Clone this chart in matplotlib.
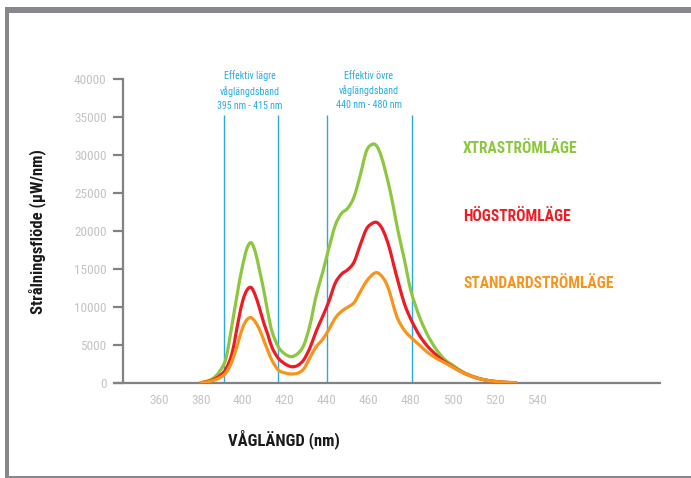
import os
import matplotlib
matplotlib.use("Agg")
import matplotlib.pyplot as plt
from matplotlib import font_manager
from matplotlib.font_manager import FontProperties
from matplotlib.patches import Rectangle, PathPatch
from matplotlib.path import Path

# ---------------- data ----------------
wavelength = [380, 383, 386, 389, 392, 395, 398, 400, 402, 404, 406, 408, 410, 412, 414,
              417, 420, 423, 426, 429, 432, 435, 438, 441, 444, 447, 450, 453, 456, 459,
              462, 464, 466, 468, 470, 472, 474, 477, 480, 484, 488, 492, 496, 500, 505,
              510, 515, 520, 525, 530]

xtra = [0, 200, 600, 1500, 3200, 7800, 12700, 15500, 17700, 18450, 17200, 14800, 12200, 9200, 6700,
        4700, 3800, 3430, 3800, 4900, 7600, 11500, 14500, 17700, 20700, 22300, 23000, 24500, 27400, 30600,
        31450, 31100, 29800, 27800, 25500, 22800, 19900, 16200, 12200, 8800, 6300, 4450, 3100, 2300, 1400,
        800, 400, 180, 50, 0]

hog = [0, 150, 400, 900, 1800, 4000, 8300, 10800, 12200, 12550, 11500, 9800, 7900, 6300, 4600,
       3200, 2500, 2120, 2250, 3000, 4600, 6800, 8700, 10700, 13100, 14300, 14900, 15900, 18200, 20300,
       21050, 21100, 20500, 19300, 17600, 15400, 13300, 10400, 8400, 6300, 4800, 3700, 2800, 2100, 1300,
       750, 380, 170, 50, 0]

standard = [0, 100, 300, 650, 1300, 2900, 5500, 7300, 8300, 8570, 8000, 7000, 5600, 4200, 2900,
            1650, 1300, 1150, 1250, 1800, 3300, 4750, 5700, 7000, 8500, 9400, 9950, 10550, 12000, 13400,
            14300, 14500, 14100, 13300, 11900, 9900, 8300, 6900, 6000, 5000, 4000, 3250, 2650, 2050, 1300,
            750, 380, 170, 50, 0]

band_lines = [391.2, 416.9, 440, 480.6]
band_top = 35300
x_ticks = [360, 380, 400, 420, 440, 460, 480, 500, 520, 540]
y_ticks = [0, 5000, 10000, 15000, 20000, 25000, 30000, 35000, 40000]

series_labels = ["XTRASTRÖMLÄGE", "HÖGSTRÖMLÄGE", "STANDARDSTRÖMLÄGE"]
label_y = [30890, 21970, 13100]
label_x = 505

band_texts = ["Effektiv lägre\nvåglängdsband\n395 nm - 415 nm",
              "Effektiv övre\nvåglängdsband\n440 nm - 480 nm"]
band_text_x = [403.5, 460]
band_text_y = 38500

GREEN = '#8dc63f'
RED = '#ed1c24'
ORANGE = '#f7941d'
BLUE = '#29abe2'
GREY = '#808285'
TICKGREY = '#c4c4c4'

# ---------------- fonts ----------------
files = {os.path.basename(f.fname).lower(): f.fname for f in font_manager.fontManager.ttflist}

def pick(cands):
    for c in cands:
        for k, v in files.items():
            if k.startswith(c):
                return v
    return None

bold_file = pick(['liberationsansnarrow-bold.', 'robotocondensed-bold.', 'dejavusanscondensed-bold.',
                  'opensans_condensed-bold', 'opensanscondensed-bold'])
reg_file = pick(['liberationsansnarrow-regular.', 'robotocondensed-regular.', 'dejavusanscondensed.',
                 'opensans_condensed-light', 'opensanscondensed-light'])

def fp(bold, size):
    f = bold_file if bold else reg_file
    if f:
        return FontProperties(fname=f, size=size)
    return FontProperties(family=['Liberation Sans', 'DejaVu Sans'],
                          weight='bold' if bold else 'normal', size=size)

# ---------------- figure ----------------
W, H = 691, 478
fig = plt.figure(figsize=(W / 100, H / 100), dpi=100)
fig.patch.set_facecolor('white')

def frect(x0, y0, x1, y1):
    fig.patches.append(Rectangle((x0 / W, 1 - y1 / H), (x1 - x0) / W, (y1 - y0) / H,
                                 transform=fig.transFigure, facecolor='#87888b',
                                 edgecolor='none', zorder=0))
frect(4.7, 6.7, 9.3, 478)
frect(4.7, 6.7, 691, 13.3)
frect(4.7, 475.5, 691, 478)

ax = fig.add_axes([113.6 / W, 1 - 382.7 / H, (660 - 113.6) / W, (382.7 - 70) / H])
ax.set_xlim(338.5, 598.7)
ax.set_ylim(0, 41215)
ax.patch.set_alpha(0)

for s in ['top', 'right']:
    ax.spines[s].set_visible(False)
ax.spines['left'].set_position(('data', 343.2))
ax.spines['left'].set_bounds(0, 40000)
for s in ['left', 'bottom']:
    ax.spines[s].set_color(GREY)
    ax.spines[s].set_linewidth(1.6)

ax.set_yticks(y_ticks)
ax.set_yticklabels([str(v) for v in y_ticks], fontproperties=fp(False, 9.5))
ax.set_xticks(x_ticks)
ax.set_xticklabels([str(v) for v in x_ticks], fontproperties=fp(False, 9.5))
ax.tick_params(axis='y', direction='out', length=7.2, width=1.6, color=GREY,
               labelcolor=TICKGREY, pad=5)
ax.tick_params(axis='x', length=0, labelcolor=TICKGREY, pad=8)

# band lines
ax.vlines(band_lines, 0, band_top, color=BLUE, linewidth=1.0, zorder=2)

# smooth curves (Catmull-Rom rendered as cubic Bezier through the data points)
def smooth_path(xs, ys):
    pts = list(zip(xs, ys))
    n = len(pts)
    verts = [pts[0]]
    codes = [Path.MOVETO]
    for i in range(n - 1):
        p0 = pts[i - 1] if i > 0 else pts[i]
        p1 = pts[i]
        p2 = pts[i + 1]
        p3 = pts[i + 2] if i + 2 < n else pts[i + 1]
        c1 = (p1[0] + (p2[0] - p0[0]) / 6, max(0, p1[1] + (p2[1] - p0[1]) / 6))
        c2 = (p2[0] - (p3[0] - p1[0]) / 6, max(0, p2[1] - (p3[1] - p1[1]) / 6))
        verts += [c1, c2, p2]
        codes += [Path.CURVE4, Path.CURVE4, Path.CURVE4]
    return Path(verts, codes)

for ys, col, z in [(xtra, GREEN, 3), (hog, RED, 4), (standard, ORANGE, 5)]:
    ax.add_patch(PathPatch(smooth_path(wavelength, ys), facecolor='none', edgecolor=col,
                           linewidth=2.3, zorder=z, capstyle='round', joinstyle='round'))

# series labels
for lab, yv, col in zip(series_labels, label_y, [GREEN, RED, ORANGE]):
    ax.text(label_x, yv, lab, color=col, fontproperties=fp(True, 11.2),
            va='center', ha='left')

# band annotations
for t, xv in zip(band_texts, band_text_x):
    ax.text(xv, band_text_y, t, color=BLUE, fontproperties=fp(False, 7.2),
            ha='center', va='center', linespacing=1.5)

# axis titles
fig.text(36.7 / W, 1 - 232 / H, "Strålningsflöde (µW/nm)", rotation=90,
         fontproperties=fp(True, 12), ha='center', va='center', color='#1a1a1a')
fig.text(284 / W, 1 - 439 / H, "VÅGLÄNGD (nm)", fontproperties=fp(True, 12),
         ha='center', va='center', color='#1a1a1a')

fig.savefig('out.png', dpi=100)
